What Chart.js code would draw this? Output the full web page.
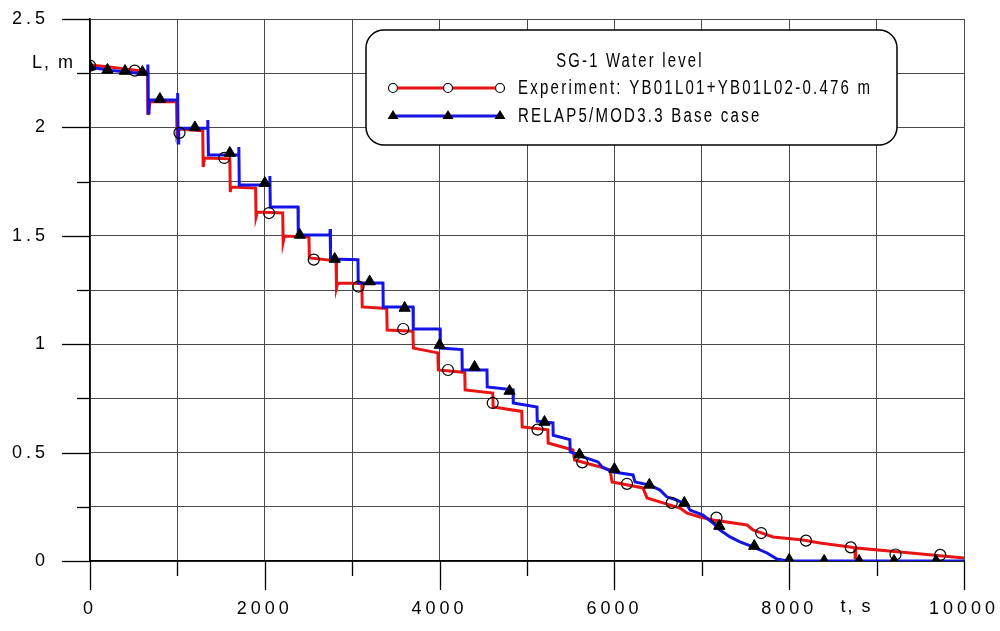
<!DOCTYPE html>
<html><head><meta charset="utf-8">
<script src="https://cdn.jsdelivr.net/npm/chart.js@4.4.1/dist/chart.umd.min.js"></script>
<style>html,body{margin:0;padding:0;background:#fff;}#wrap{width:1000px;height:631px;}</style>
</head><body><div id="wrap"><canvas id="c" width="1000" height="631"></canvas></div>
<script>
// ---- data ----
const expT = [0,200,400,550,660,663,680,690,990,995,1010,1290,1295,1310,1600,1605,1615,1895,1900,1915,2205,2210,2225,2505,2510,2815,2820,2835,3110,3115,3395,3400,3695,3700,3980,3985,4288,4292,4608,4613,4940,4945,5238,5242,5526,5545,5755,5835,5950,5973,6327,6373,6556,6751,6831,6979,7128,7517,7586,7815,8158,8352,8696,8750,8755,8760,9268,10000];
const expL = [2.288,2.28,2.27,2.262,2.256,2.057,2.10,2.12,2.118,1.974,1.993,1.985,1.817,1.859,1.855,1.702,1.725,1.72,1.587,1.61,1.605,1.471,1.499,1.494,1.398,1.385,1.259,1.282,1.28,1.172,1.165,1.065,1.06,0.982,0.96,0.881,0.87,0.789,0.775,0.71,0.69,0.618,0.605,0.544,0.512,0.466,0.443,0.434,0.420,0.364,0.337,0.291,0.268,0.244,0.221,0.203,0.189,0.166,0.143,0.111,0.097,0.083,0.065,0.06,0.014,0.06,0.042,0.014];
const expMarkT = [0,512,1024,1536,2048,2560,3072,3584,4096,4608,5120,5632,6144,6656,7168,7680,8192,8704,9216,9728];
const expMarkL = [2.285,2.262,1.975,1.859,1.605,1.39,1.266,1.07,0.881,0.729,0.606,0.455,0.356,0.268,0.2,0.129,0.094,0.063,0.03,0.028];

const relT = [0,250,500,660,662,666,675,1000,1003,1008,1015,1345,1348,1355,1700,1703,1708,2055,2058,2063,2380,2383,2745,2748,2752,3066,3069,3352,3355,3696,3699,4005,4008,4256,4259,4542,4545,4840,4843,5114,5117,5297,5300,5490,5495,5641,5812,5858,5973,6064,6213,6236,6407,6522,6602,6716,6831,6865,7014,7128,7208,7323,7437,7586,7746,7860,7975,10000];
const relL = [2.278,2.262,2.252,2.246,2.29,2.066,2.126,2.126,2.159,1.928,1.996,1.996,2.034,1.873,1.873,1.91,1.734,1.734,1.776,1.633,1.633,1.504,1.504,1.531,1.393,1.39,1.282,1.282,1.172,1.172,1.070,1.070,0.982,0.975,0.881,0.881,0.803,0.79,0.729,0.71,0.645,0.637,0.58,0.56,0.503,0.48,0.457,0.434,0.411,0.406,0.397,0.364,0.350,0.327,0.295,0.281,0.258,0.235,0.212,0.175,0.143,0.111,0.088,0.065,0.037,0.009,0,0];
const relMarkT = [0,200,400,600,800,1200,1600,2000,2400,2800,3200,3600,4000,4400,4800,5200,5600,6000,6400,6800,7200,7600,8000,8400,8800,9200,9680];
const relMarkL = [2.28,2.265,2.26,2.255,2.131,2.0,1.882,1.743,1.504,1.393,1.289,1.167,0.996,0.895,0.784,0.641,0.491,0.424,0.351,0.268,0.161,0.069,0.005,0,0,0,0];

const xTickValues = [0,2000,4000,6000,8000,10000];
const xTickLabels = ['0','2000','4000','6000','8000','10000'];
const yTickValues = [0,0.5,1,1.5,2,2.5];
const yTickLabels = ['0','0.5','1','1.5','2','2.5'];
const xAxisTitle = 't, s';
const yAxisTitle = 'L, m';
const legendTitle = 'SG-1 Water level';
const seriesNames = ['Experiment: YB01L01+YB01L02-0.476 m', 'RELAP5/MOD3.3 Base case'];

const FONT = '"Liberation Sans",Arial,sans-serif';
const RED = '#e81414', BLUE = '#1414e6';

const pts = (t, v) => t.map((x, i) => ({x, y: v[i]}));
const near = (arr, v) => arr.findIndex(a => Math.abs(a - v) < 1e-6);

function squeezedText(ctx, text, x, y, k) {
  ctx.save();
  ctx.translate(x, y);
  ctx.scale(k, 1);
  ctx.fillText(text, 0, 0);
  ctx.restore();
}

const decorPlugin = {
  id: 'decor',
  beforeDraw(chart) { chart.ctx.letterSpacing = '4px'; },
  afterDraw(chart) {
    const ctx = chart.ctx, xs = chart.scales.x, ys = chart.scales.y;
    ctx.save();
    ctx.letterSpacing = '0px';
    ctx.strokeStyle = '#000';
    ctx.lineWidth = 1.3;
    ys.ticks.forEach(t => {
      const p = Math.round(ys.getPixelForValue(t.value)) + 0.5;
      const major = near(yTickValues, t.value) >= 0;
      ctx.beginPath(); ctx.moveTo(xs.left - (major ? 28 : 13), p); ctx.lineTo(xs.left, p); ctx.stroke();
    });
    xs.ticks.forEach(t => {
      const p = Math.round(xs.getPixelForValue(t.value)) + 0.5;
      const major = near(xTickValues, t.value) >= 0;
      ctx.beginPath(); ctx.moveTo(p, ys.bottom); ctx.lineTo(p, ys.bottom + (major ? 29 : 15)); ctx.stroke();
    });
    // axis titles
    ctx.fillStyle = '#000';
    ctx.font = '18px ' + FONT;
    ctx.letterSpacing = '2px';
    ctx.textBaseline = 'middle';
    ctx.textAlign = 'right';
    ctx.fillText(yAxisTitle, xs.left - 15, ys.getPixelForValue(2.25) - 10);
    ctx.textAlign = 'center';
    ctx.fillText(xAxisTitle, xs.getPixelForValue(9000) - 20, ys.bottom + 46);
    // legend box
    const bx = 366, by = 30, bw = 531, bh = 115, r = 18;
    ctx.beginPath();
    ctx.moveTo(bx + r, by); ctx.lineTo(bx + bw - r, by); ctx.arcTo(bx + bw, by, bx + bw, by + r, r);
    ctx.lineTo(bx + bw, by + bh - r); ctx.arcTo(bx + bw, by + bh, bx + bw - r, by + bh, r);
    ctx.lineTo(bx + r, by + bh); ctx.arcTo(bx, by + bh, bx, by + bh - r, r);
    ctx.lineTo(bx, by + r); ctx.arcTo(bx, by, bx + r, by, r); ctx.closePath();
    ctx.fillStyle = '#fff'; ctx.fill();
    ctx.lineWidth = 1.5; ctx.strokeStyle = '#000'; ctx.stroke();
    ctx.fillStyle = '#000';
    ctx.font = '20px ' + FONT;
    ctx.letterSpacing = '3px';
    ctx.textAlign = 'center';
    squeezedText(ctx, legendTitle, 630, 61, 0.74);
    ctx.textAlign = 'left';
    squeezedText(ctx, seriesNames[0], 518, 88, 0.75);
    squeezedText(ctx, seriesNames[1], 518, 116, 0.75);
    // samples
    const sx = [393, 448, 500];
    ctx.lineWidth = 3;
    ctx.strokeStyle = RED; ctx.beginPath(); ctx.moveTo(393, 88); ctx.lineTo(500, 88); ctx.stroke();
    ctx.strokeStyle = BLUE; ctx.beginPath(); ctx.moveTo(393, 116); ctx.lineTo(500, 116); ctx.stroke();
    ctx.lineWidth = 1.2; ctx.strokeStyle = '#000';
    sx.forEach(x => { ctx.beginPath(); ctx.arc(x, 88, 4.5, 0, Math.PI * 2); ctx.fillStyle = '#fff'; ctx.fill(); ctx.stroke(); });
    ctx.fillStyle = '#000';
    sx.forEach(x => { ctx.beginPath(); ctx.moveTo(x, 110); ctx.lineTo(x + 5.5, 119); ctx.lineTo(x - 5.5, 119); ctx.closePath(); ctx.fill(); });
    ctx.restore();
  }
};

new Chart(document.getElementById('c'), {
  type: 'scatter',
  data: {
    datasets: [
      {data: pts(expT, expL), showLine: true, borderColor: RED, borderWidth: 3, pointRadius: 0, tension: 0, order: 4},
      {data: pts(relT, relL), showLine: true, borderColor: BLUE, borderWidth: 3, pointRadius: 0, tension: 0, order: 3},
      {data: pts(expMarkT, expMarkL), showLine: false, pointStyle: 'circle', pointRadius: 5.5, pointBackgroundColor: 'rgba(0,0,0,0)', pointBorderColor: '#000', pointBorderWidth: 1.2, order: 2},
      {data: pts(relMarkT, relMarkL), showLine: false, pointStyle: 'triangle', pointRadius: 6.5, pointBackgroundColor: '#000', pointBorderColor: '#000', pointBorderWidth: 1, order: 1}
    ]
  },
  options: {
    responsive: false, animation: false, devicePixelRatio: 1,
    layout: {padding: {top: 19, right: 36, left: 0, bottom: 0}},
    plugins: {legend: {display: false}, tooltip: {enabled: false}},
    scales: {
      x: {
        type: 'linear', min: 0, max: 10000,
        afterFit: s => { s.height = 70; },
        ticks: {stepSize: 1000, autoSkip: false, maxRotation: 0, padding: 0, color: '#000',
          font: {family: FONT, size: 18},
          callback: v => { const i = near(xTickValues, v); return i >= 0 ? xTickLabels[i] : ''; }},
        grid: {color: '#4a4a4a', lineWidth: 1, drawTicks: true, tickLength: 37, tickColor: 'rgba(0,0,0,0)'},
        border: {color: '#000', width: 1.5}
      },
      y: {
        type: 'linear', min: 0, max: 2.5,
        afterFit: s => { s.width = 90; },
        ticks: {stepSize: 0.25, autoSkip: false, padding: 0, color: '#000',
          font: {family: FONT, size: 18},
          callback: v => { const i = near(yTickValues, v); return i >= 0 ? yTickLabels[i] : ''; }},
        grid: {color: '#4a4a4a', lineWidth: 1, drawTicks: true, tickLength: 41, tickColor: 'rgba(0,0,0,0)'},
        border: {color: '#000', width: 1.5}
      }
    }
  },
  plugins: [decorPlugin]
});
</script></body></html>
